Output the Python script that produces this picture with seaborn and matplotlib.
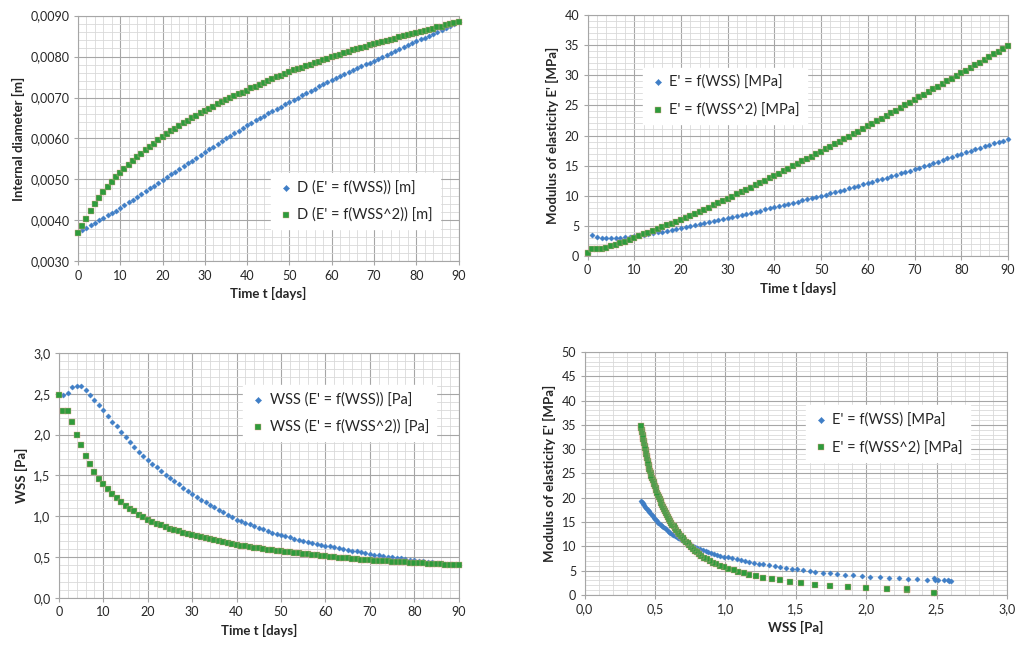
import numpy as np
import matplotlib
matplotlib.use("Agg")
import matplotlib.pyplot as plt
import seaborn as sns
from matplotlib.ticker import MultipleLocator, FuncFormatter

# time axis (days)
t = list(range(91))

# internal diameter [m]
d_wss = [0.00370, 0.00376, 0.00382, 0.00388, 0.00394, 0.00400, 0.00406, 0.00412, 0.00418, 0.00424, 0.00430,
         0.00437, 0.00444, 0.00450, 0.00457, 0.00464, 0.00471, 0.00478, 0.00484, 0.00491, 0.00498,
         0.00505, 0.00512, 0.00519, 0.00526, 0.00533, 0.00540, 0.00546, 0.00553, 0.00560, 0.00567,
         0.00574, 0.00580, 0.00587, 0.00593, 0.00600, 0.00606, 0.00613, 0.00619, 0.00626, 0.00632,
         0.00638, 0.00644, 0.00649, 0.00655, 0.00661, 0.00666, 0.00672, 0.00678, 0.00683, 0.00689,
         0.00694, 0.00700, 0.00705, 0.00711, 0.00716, 0.00721, 0.00727, 0.00732, 0.00738, 0.00743,
         0.00748, 0.00752, 0.00757, 0.00762, 0.00767, 0.00771, 0.00776, 0.00781, 0.00785, 0.00790,
         0.00795, 0.00799, 0.00804, 0.00809, 0.00813, 0.00818, 0.00823, 0.00827, 0.00832, 0.00837,
         0.00842, 0.00846, 0.00851, 0.00856, 0.00860, 0.00865, 0.00870, 0.00874, 0.00879, 0.00884]
d_wss2 = [0.00369, 0.00385, 0.00404, 0.00422, 0.00439, 0.00455, 0.00469, 0.00481, 0.00493, 0.00505, 0.00516,
          0.00526, 0.00536, 0.00545, 0.00554, 0.00563, 0.00571, 0.00579, 0.00587, 0.00595, 0.00603,
          0.00610, 0.00617, 0.00624, 0.00631, 0.00637, 0.00643, 0.00649, 0.00655, 0.00662, 0.00668,
          0.00673, 0.00678, 0.00684, 0.00689, 0.00694, 0.00699, 0.00703, 0.00708, 0.00712, 0.00717,
          0.00722, 0.00726, 0.00731, 0.00735, 0.00740, 0.00744, 0.00749, 0.00753, 0.00758, 0.00762,
          0.00766, 0.00770, 0.00773, 0.00777, 0.00780, 0.00784, 0.00787, 0.00791, 0.00794, 0.00798,
          0.00801, 0.00805, 0.00808, 0.00811, 0.00815, 0.00818, 0.00821, 0.00824, 0.00828, 0.00831,
          0.00834, 0.00836, 0.00839, 0.00841, 0.00844, 0.00847, 0.00849, 0.00852, 0.00854, 0.00857,
          0.00860, 0.00862, 0.00865, 0.00868, 0.00871, 0.00873, 0.00876, 0.00879, 0.00881, 0.00884]

# modulus of elasticity E' [MPa]
e_wss = [0.45, 3.5, 3.1, 3.0, 2.95, 2.95, 3.0, 3.05, 3.1, 3.2, 3.3,
         3.42, 3.55, 3.67, 3.8, 3.93, 4.06, 4.19, 4.32, 4.46, 4.6,
         4.76, 4.92, 5.09, 5.26, 5.43, 5.6, 5.77, 5.95, 6.12, 6.3,
         6.48, 6.66, 6.84, 7.02, 7.2, 7.38, 7.56, 7.74, 7.92, 8.1,
         8.29, 8.48, 8.67, 8.86, 9.05, 9.24, 9.43, 9.62, 9.81, 10.0,
         10.2, 10.4, 10.6, 10.83, 11.04, 11.25, 11.46, 11.67, 11.88, 12.1,
         12.33, 12.56, 12.79, 13.02, 13.25, 13.48, 13.71, 13.94, 14.17, 14.4,
         14.65, 14.9, 15.16, 15.42, 15.68, 15.94, 16.2, 16.46, 16.72, 17.0,
         17.24, 17.48, 17.72, 17.96, 18.2, 18.44, 18.68, 18.92, 19.16, 19.4]
e_wss2 = [0.45, 1.1, 1.15, 1.25, 1.4, 1.6, 1.8, 2.1, 2.4, 2.7, 3.0,
          3.3, 3.6, 3.9, 4.2, 4.5, 4.8, 5.1, 5.4, 5.7, 6.0,
          6.33, 6.67, 7.01, 7.35, 7.7, 8.05, 8.4, 8.76, 9.13, 9.5,
          9.87, 10.24, 10.61, 10.99, 11.37, 11.75, 12.13, 12.52, 12.91, 13.3,
          13.7, 14.1, 14.5, 14.9, 15.3, 15.7, 16.1, 16.5, 16.9, 17.3,
          17.72, 18.14, 18.56, 18.98, 19.4, 19.82, 20.24, 20.66, 21.08, 21.5,
          21.94, 22.38, 22.82, 23.26, 23.7, 24.14, 24.58, 25.02, 25.46, 25.9,
          26.34, 26.78, 27.22, 27.66, 28.1, 28.54, 28.98, 29.42, 29.86, 30.3,
          30.75, 31.2, 31.65, 32.1, 32.55, 33.0, 33.45, 33.9, 34.35, 34.8]

# wall shear stress [Pa]
w_wss = [2.48, 2.48, 2.51, 2.58, 2.60, 2.59, 2.55, 2.49, 2.43, 2.36, 2.30,
         2.23, 2.16, 2.10, 2.03, 1.97, 1.91, 1.85, 1.79, 1.74, 1.69,
         1.64, 1.60, 1.55, 1.51, 1.47, 1.43, 1.39, 1.35, 1.31, 1.27,
         1.24, 1.20, 1.17, 1.14, 1.11, 1.08, 1.05, 1.02, 0.99, 0.96,
         0.94, 0.92, 0.90, 0.88, 0.86, 0.84, 0.82, 0.80, 0.785, 0.77,
         0.756, 0.742, 0.728, 0.715, 0.702, 0.69, 0.678, 0.666, 0.654, 0.642,
         0.631, 0.62, 0.61, 0.60, 0.59, 0.58, 0.57, 0.56, 0.55, 0.54,
         0.532, 0.524, 0.516, 0.508, 0.50, 0.492, 0.484, 0.476, 0.468, 0.46,
         0.454, 0.448, 0.442, 0.436, 0.43, 0.424, 0.418, 0.412, 0.406, 0.40]
w_wss2 = [2.48, 2.29, 2.29, 2.15, 2.00, 1.87, 1.74, 1.64, 1.54, 1.46, 1.39,
          1.33, 1.27, 1.22, 1.17, 1.13, 1.09, 1.06, 1.02, 0.99, 0.96,
          0.935, 0.91, 0.89, 0.87, 0.85, 0.83, 0.815, 0.80, 0.785, 0.77,
          0.757, 0.745, 0.733, 0.721, 0.709, 0.697, 0.685, 0.673, 0.661, 0.65,
          0.641, 0.632, 0.624, 0.616, 0.608, 0.600, 0.593, 0.586, 0.578, 0.57,
          0.564, 0.558, 0.552, 0.546, 0.54, 0.534, 0.528, 0.522, 0.516, 0.51,
          0.505, 0.50, 0.495, 0.49, 0.485, 0.48, 0.475, 0.47, 0.465, 0.46,
          0.457, 0.454, 0.451, 0.448, 0.445, 0.442, 0.439, 0.436, 0.433, 0.43,
          0.427, 0.424, 0.421, 0.418, 0.415, 0.412, 0.409, 0.406, 0.403, 0.40]

sns.set_theme(style="white")
plt.rcParams["font.family"] = ["Lato", "DejaVu Sans"]

BLUE = "#3F7EC6"
GREEN = "#2E9B3C"
EDGE = "#E3A58C"


def comma_fmt(decimals):
    return FuncFormatter(lambda v, p: f"{v:.{decimals}f}".replace(".", ","))


def style_axes(ax, xlim, ylim, xmaj, xmin, ymaj, ymin, xdec, ydec, xlabel, ylabel):
    ax.set_xlim(*xlim)
    ax.set_ylim(*ylim)
    ax.xaxis.set_major_locator(MultipleLocator(xmaj))
    ax.xaxis.set_minor_locator(MultipleLocator(xmin))
    ax.yaxis.set_major_locator(MultipleLocator(ymaj))
    ax.yaxis.set_minor_locator(MultipleLocator(ymin))
    ax.xaxis.set_major_formatter(comma_fmt(xdec))
    ax.yaxis.set_major_formatter(comma_fmt(ydec))
    ax.grid(which="major", color="#A6A6A6", lw=0.8)
    ax.grid(which="minor", color="#D9D9D9", lw=0.6)
    ax.set_axisbelow(True)
    for sp in ax.spines.values():
        sp.set_color("#A6A6A6")
        sp.set_linewidth(0.8)
    ax.tick_params(which="major", direction="out", length=3, width=0.8, color="#A6A6A6",
                   labelsize=9, labelcolor="#262626", pad=3, bottom=True, left=True)
    ax.tick_params(which="minor", length=0)
    ax.set_xlabel(xlabel, fontsize=9.5, fontweight="bold", color="#262626", labelpad=4)
    ax.set_ylabel(ylabel, fontsize=9.5, fontweight="bold", color="#262626", labelpad=4)


def add_series(ax, x1, y1, x2, y2, lab1, lab2):
    sns.scatterplot(x=x1, y=y1, marker="D", s=7, color=BLUE, edgecolor=BLUE, linewidth=0.3,
                    label=lab1, ax=ax, clip_on=False, zorder=3)
    sns.scatterplot(x=x2, y=y2, marker="s", s=17, color=GREEN, edgecolor=EDGE, linewidth=0.3,
                    label=lab2, ax=ax, clip_on=False, zorder=4)


def add_legend(ax, x0, y0, w, h):
    leg = ax.legend(loc="center", bbox_to_anchor=(x0, y0, w, h), frameon=True, fancybox=False,
                    edgecolor="white", facecolor="white", framealpha=1, fontsize=10.5,
                    handletextpad=0.3, labelspacing=0.9, markerscale=1.2, borderpad=0.5,
                    handlelength=1.0)
    for txt in leg.get_texts():
        txt.set_color("#262626")
    leg.set_zorder(5)


fig = plt.figure(figsize=(10.15, 6.5), dpi=100)

# internal diameter vs time
ax1 = fig.add_axes([0.0768, 0.598, 0.375, 0.378])
add_series(ax1, t, d_wss, t, d_wss2, "D (E' = f(WSS)) [m]", "D (E' = f(WSS^2)) [m]")
style_axes(ax1, (0, 90), (0.003, 0.009), 10, 2, 0.001, 0.0002, 0, 4,
           "Time t [days]", "Internal diameter [m]")
add_legend(ax1, 0.50, 0.13, 0.46, 0.23)

# modulus vs time
ax2 = fig.add_axes([0.579, 0.606, 0.414, 0.371])
add_series(ax2, t, e_wss, t, e_wss2, "E' = f(WSS) [MPa]", "E' = f(WSS^2) [MPa]")
style_axes(ax2, (0, 90), (0, 40), 10, 2, 5, 1, 0, 0,
           "Time t [days]", "Modulus of elasticity E' [MPa]")
add_legend(ax2, 0.117, 0.56, 0.42, 0.21)

# WSS vs time
ax3 = fig.add_axes([0.058, 0.08, 0.394, 0.377])
add_series(ax3, t, w_wss, t, w_wss2, "WSS (E' = f(WSS)) [Pa]", "WSS (E' = f(WSS^2)) [Pa]")
style_axes(ax3, (0, 90), (0, 3), 10, 2, 0.5, 0.1, 0, 1,
           "Time t [days]", "WSS [Pa]")
add_legend(ax3, 0.485, 0.66, 0.435, 0.19)

# modulus vs WSS
ax4 = fig.add_axes([0.576, 0.0846, 0.416, 0.374])
add_series(ax4, w_wss, e_wss, w_wss2, e_wss2, "E' = f(WSS) [MPa]", "E' = f(WSS^2) [MPa]")
style_axes(ax4, (0, 3), (0, 50), 0.5, 0.1, 5, 1, 1, 0,
           "WSS [Pa]", "Modulus of elasticity E' [MPa]")
add_legend(ax4, 0.526, 0.57, 0.385, 0.19)

fig.savefig("out.png", dpi=100)
